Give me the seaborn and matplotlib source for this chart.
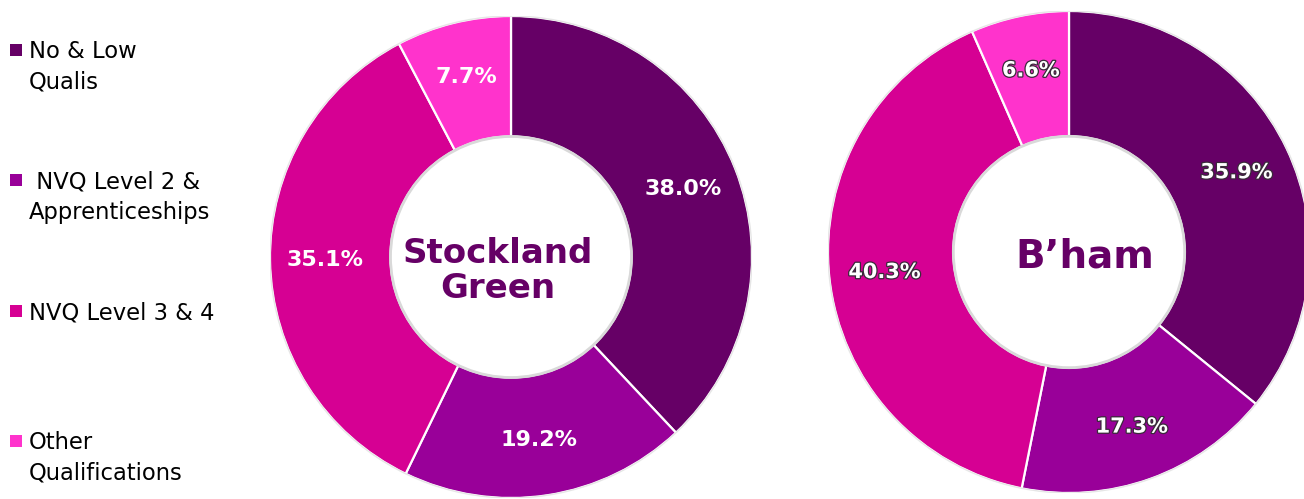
import matplotlib
matplotlib.use("Agg")
import matplotlib.pyplot as plt
import seaborn as sns
from matplotlib.patches import Rectangle, Circle
import matplotlib.patheffects as pe

# ---- data ----
categories = ["No & Low\nQualis", " NVQ Level 2 &\nApprenticeships",
              "NVQ Level 3 & 4", "Other\nQualifications"]
stockland_values = [38.0, 19.2, 35.1, 7.7]
bham_values = [35.9, 17.3, 40.3, 6.6]
area_titles = ["Stockland\nGreen", "B\u2019ham"]
colors = ["#660066", "#990099", "#D60093", "#FF33CC"]

sns.set_theme(style="white")
plt.rcParams['font.family'] = ['DejaVu Sans']

W, H = 1304, 499
fig = plt.figure(figsize=(W / 100, H / 100), dpi=100)
fig.patch.set_facecolor("white")
palette = sns.color_palette(colors)


def donut(cx, cy, r, hole, values, title, title_size, title_dx, title_dy,
          label_size, label_dist, shadow):
    ax = fig.add_axes([(cx - r) / W, (H - cy - r) / H, 2 * r / W, 2 * r / H])
    labels = [f"{v:.1f}%" for v in values]
    wedges, texts = ax.pie(values, colors=palette, startangle=90,
                           counterclock=False, radius=1,
                           labels=labels, labeldistance=label_dist,
                           wedgeprops=dict(width=1 - hole, edgecolor="white",
                                           linewidth=1.6),
                           textprops=dict(color="white", fontsize=label_size,
                                          fontweight="bold"))
    for t in texts:
        t.set_ha("center")
        t.set_va("center")
        if shadow:
            t.set_path_effects([pe.withStroke(linewidth=1.8, foreground="#3a2a3a")])
    ax.add_patch(Circle((0, 0), hole, fill=False, edgecolor="#d9d9d9", lw=2))
    ax.add_patch(Circle((0, 0), 1.0, fill=False, edgecolor="#e6e6e6", lw=1))
    ax.text(title_dx, title_dy, title, ha="center", va="center",
            fontsize=title_size, fontweight="bold", color="#660066",
            linespacing=1.05)
    ax.set_xlim(-1, 1)
    ax.set_ylim(-1, 1)
    ax.axis("off")
    return ax


donut(511, 257, 241, 0.5, stockland_values, area_titles[0], 24.5,
      -0.054, -0.058, 16, 0.77, False)
donut(1069, 252, 241, 0.48, bham_values, area_titles[1], 28,
      0.066, -0.02, 15, 0.77, True)

# ---- legend ----
for i, (cat, col) in enumerate(zip(categories, colors)):
    y = 50 + i * 130.3
    fig.add_artist(Rectangle((10 / W, 1 - (y + 6) / H), 12 / W, 12 / H,
                             transform=fig.transFigure, color=col, lw=0))
    fig.text(29 / W, 1 - (y - 9.5) / H, cat, ha="left", va="top",
             fontsize=16.3, color="black", linespacing=1.38)

fig.savefig("out.png", dpi=100, facecolor="white")
